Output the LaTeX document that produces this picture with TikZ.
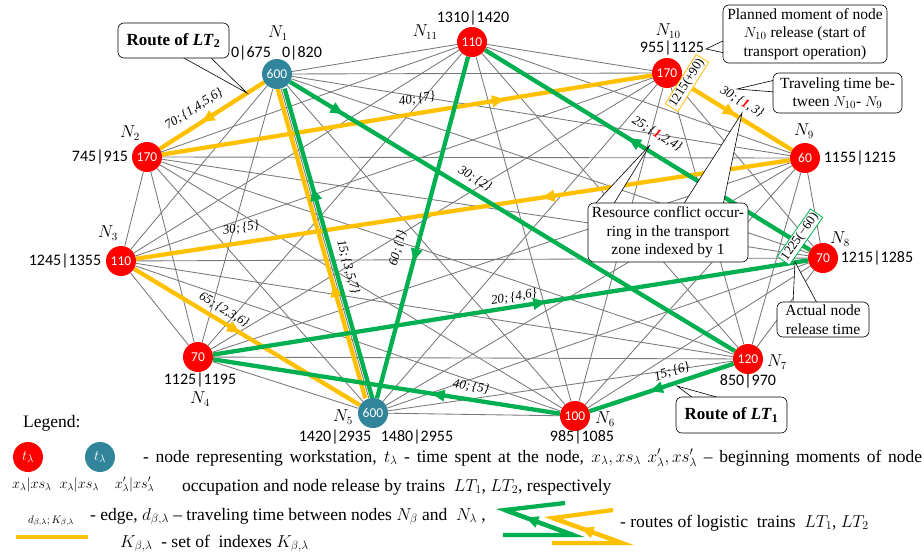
\documentclass[tikz,border=0pt]{standalone}
\usepackage{fontspec}
\setmainfont{Liberation Serif}
\newfontfamily\numfont{Carlito}
\usetikzlibrary{arrows.meta,decorations.markings}
\pgfdeclarelayer{edges}
\pgfdeclarelayer{routes}
\pgfsetlayers{edges,routes,main}
\definecolor{nodered}{RGB}{255,0,0}
\definecolor{nodeteal}{RGB}{49,133,155}
\definecolor{routey}{RGB}{255,192,0}
\definecolor{routeg}{RGB}{0,176,80}
\definecolor{edgegray}{RGB}{120,120,120}
\tikzset{
 ws/.style={circle, minimum size=30pt, inner sep=0pt, text=white, font=\numfont\fontsize{13.5}{14}\selectfont},
 wsred/.style={ws, fill=nodered},
 wsteal/.style={ws, fill=nodeteal},
 grayedge/.style={draw=edgegray, line width=0.85pt},
 lt1/.style={draw=routeg, line width=4.3pt},
 lt2/.style={draw=routey, line width=4.3pt},
 midarrow/.style={postaction={decorate}, decoration={markings, mark=at position #1 with {\arrow{Triangle[length=13pt,width=11pt]}}}},
 tlab/.style={font=\numfont\fontsize{16}{18}\selectfont, inner sep=0pt},
 nlab/.style={font=\fontsize{16}{18}\selectfont, inner sep=0pt},
 elab/.style={font=\itshape\fontsize{13}{15}\selectfont, inner sep=0pt},
 callout/.style={draw=black, fill=white, rounded corners=6pt, line width=0.6pt, align=center, font=\fontsize{15.5}{18.5}\selectfont, inner sep=2pt},
 routebox/.style={callout, font=\bfseries\fontsize{17}{19}\selectfont},
 wedge/.style={draw=black, fill=white, line width=0.6pt},
 relbox/.style={fill=white, line width=0.8pt, inner sep=1.5pt, font=\fontsize{13}{15}\selectfont},
 legtext/.style={font=\fontsize{17.5}{21}\selectfont, inner sep=0pt},
}
\begin{document}
\begin{tikzpicture}[x=1pt,y=-1pt]
\useasboundingbox (0,0) rectangle (924,557);
% workstation nodes
\node[wsteal] (N1) at (277,74) {600};
\node[wsred] (N2) at (147,157) {170};
\node[wsred] (N3) at (121,261) {110};
\node[wsred] (N4) at (198,357) {70};
\node[wsteal] (N5) at (373,413) {600};
\node[wsred] (N6) at (575,416) {100};
\node[wsred] (N7) at (748,359) {120};
\node[wsred] (N8) at (823,258) {70};
\node[wsred] (N9) at (805,158) {60};
\node[wsred] (N10) at (667,73) {170};
\node[wsred] (N11) at (472,42) {110};
% all edges
\begin{pgfonlayer}{edges}
\foreach \i in {1,...,10}{
  \pgfmathtruncatemacro{\nxt}{\i+1}
  \foreach \j in {\nxt,...,11}{
    \draw[grayedge] (N\i) -- (N\j);
  }
}
\end{pgfonlayer}
% routes
\begin{pgfonlayer}{routes}
\draw[lt2, midarrow=0.6] (N1) -- (N2);
\draw[lt2, midarrow=0.7] (N2) -- (N10);
\draw[lt2, midarrow=0.5] (N10) -- (N9);
\draw[lt2, midarrow=0.38] (N9) -- (N3);
\draw[lt2, midarrow=0.47] (N3) -- (N5);
\draw[lt2, midarrow=0.37, transform canvas={xshift=-3.5pt}] (N5) -- (N1);
\draw[lt1, midarrow=0.68, transform canvas={xshift=3.5pt}] (N5) -- (N1);
\draw[lt1, midarrow=0.12] (N1) -- (N7);
\draw[lt1, midarrow=0.58] (N7) -- (N6);
\draw[lt1, midarrow=0.37] (N6) -- (N4);
\draw[lt1, midarrow=0.56] (N4) -- (N8);
\draw[lt1, midarrow=0.56] (N8) -- (N11);
\draw[lt1, midarrow=0.6] (N11) -- (N5);
\end{pgfonlayer}
% node labels
\node[nlab] (n1) at (278,33) {$N_1$};
\node[tlab] (t1a) at (251,53) {0|675};
\node[tlab] (t1b) at (302,53) {0|820};
\node[nlab] (n2) at (130,133) {$N_2$};
\node[tlab] (t2) at (100,157) {745|915};
\node[nlab] (n3) at (108,233) {$N_3$};
\node[tlab] (t3) at (65,261) {1245|1355};
\node[tlab] (t4) at (200,380) {1125|1195};
\node[nlab] (n4) at (200,399) {$N_4$};
\node[nlab] (n5) at (343,417) {$N_5$};
\node[tlab] (t5a) at (335,437) {1420|2935};
\node[tlab] (t5b) at (417,437) {1480|2955};
\node[nlab] (n6) at (605,419) {$N_6$};
\node[tlab] (t6) at (582,437) {985|1085};
\node[nlab] (n7) at (777,362) {$N_7$};
\node[tlab] (t7) at (748,381) {850|970};
\node[nlab] (n8) at (840,239) {$N_8$};
\node[tlab] (t8) at (877,258) {1215|1285};
\node[nlab] (n9) at (804,131) {$N_9$};
\node[tlab] (t9) at (860,158) {1155|1215};
\node[nlab] (n10) at (668,31) {$N_{10}$};
\node[tlab] (t10) at (672,48) {955|1125};
\node[nlab] (n11) at (425,32) {$N_{11}$};
\node[tlab] (t11) at (473,18) {1310|1420};
% edge labels
\node[elab, rotate=32.6] (e12) at (194,109) {70;\,\{1,4,5,6\}};
\node[elab, rotate=9.2] (e210) at (417,99) {40;\,\{7\}};
\node[elab, rotate=-31.6] (e109) at (742,102) {30;\,\{\textcolor{red}{\textbf{1}},\,3\}};
\node[elab, rotate=-31.6] (e811) at (657,134) {25;\,\{\textcolor{red}{\textbf{1}},2,4\}};
\node[elab, rotate=-31.2] (e17) at (475,179) {30;\,\{2\}};
\node[elab, rotate=8.6] (e93) at (241,228) {30;\,\{5\}};
\node[elab, rotate=-31.1] (e35) at (224,310) {65;\,\{2,3,6\}};
\node[elab, rotate=-74.2] (e51) at (348,267) {15;\,\{3,5,7\}};
\node[elab, rotate=75.1] (e115) at (398,248) {60;\,\{1\}};
\node[elab, rotate=9] (e48) at (514,297) {20;\,\{4,6\}};
\node[elab, rotate=-8.9] (e64) at (471,387) {40;\,\{5\}};
\node[elab, rotate=18.2] (e76) at (672,372) {15;\,\{6\}};
% release-time boxes
\node[relbox, draw=routey, rotate=58] (r10) at (687,83) {1215(+90)};
\node[relbox, draw=routeg, rotate=55] (r8) at (800,237) {1225(−60)};
% callouts
\coordinate (p2) at (247,93);
\draw[wedge] (182,57) -- (p2) -- (210,57);
\node[routebox, minimum width=111pt, minimum height=35pt] (c2) at (173.5,40.5) {Route of \textit{LT}\textsubscript{2}};
\coordinate (p10) at (706,49);
\draw[wedge] (725,40) -- (p10) -- (725,53);
\node[callout, minimum width=164pt, minimum height=58pt] (cp) at (805,34) {Planned moment of node\\$N_{10}$ release (start of\\transport operation)};
\coordinate (p109) at (737,89);
\draw[wedge] (775,80) -- (p109) -- (775,92);
\node[callout, minimum width=129pt, minimum height=40pt] (ct) at (837.5,93) {Traveling time be-\\tween $N_{10}$- $N_9$};
\coordinate (q1) at (650,145);
\coordinate (q2) at (742,113);
\draw[wedge] (594,205) -- (q1) -- (613,205);
\draw[wedge] (683,205) -- (q2) -- (723,205);
\node[callout, minimum width=160pt, minimum height=59pt] (cr) at (668,232.5) {Resource conflict occur-\\ring in the transport\\zone indexed by 1};
\coordinate (qa) at (795,262);
\draw[wedge] (793,303) -- (qa) -- (817,303);
\node[callout, minimum width=92pt, minimum height=35pt] (ca) at (823,319.5) {Actual node\\release time};
\coordinate (p1) at (677,386);
\draw[wedge] (693,398) -- (p1) -- (720,398);
\node[routebox, minimum width=111pt, minimum height=36pt] (c1) at (731.5,415) {Route of \textit{LT}\textsubscript{1}};
% legend
\node[legtext, anchor=base west] (lg) at (23,427) {Legend:};
\node[wsred, font=\fontsize{15}{15}\selectfont] (lr) at (28,457) {$t_\lambda$};
\node[wsteal, font=\fontsize{15}{15}\selectfont] (lt) at (100,457) {$t_\lambda$};
\node[font=\fontsize{14}{16}\selectfont, anchor=base west, inner sep=0pt] (lx) at (12,488) {$x_\lambda|xs_\lambda\;\; x_\lambda|xs_\lambda\;\;\;\; x'_\lambda|xs'_\lambda$};
\node[legtext, anchor=base west] (l1) at (143,462) {\makebox[779pt][s]{- node representing workstation, $t_\lambda$ - time spent at the node, $x_\lambda, xs_\lambda$ $x'_\lambda, xs'_\lambda$ – beginning moments of node}};
\node[legtext, anchor=base west] (l2) at (182,491) {occupation and node release by trains\ \ $LT_1$, $LT_2$, respectively};
\node[font=\fontsize{11}{12}\selectfont, anchor=base, inner sep=0pt] (ld) at (51,523) {$d_{\beta,\lambda};K_{\beta,\lambda}$};
\draw[lt2] (16,537) -- (88,537);
\node[legtext, anchor=base west] (l3) at (90,520) {- edge, $d_{\beta,\lambda}$ – traveling time between nodes $N_\beta$ and\ \ $N_\lambda$ ,};
\node[legtext, anchor=base west] (l4) at (120,547) {$K_{\beta,\lambda}$\ \ - set of\ \ indexes $K_{\beta,\lambda}$};
\draw[lt1, line join=miter] (565,503) -- (505,510) -- (573,535) -- (503,535);
\draw[lt1, midarrow=0.7] (573,535) -- (505,510);
\draw[lt2, line join=miter] (613,510) -- (553,518) -- (622,543) -- (552,543);
\draw[lt2, midarrow=0.6] (622,543) -- (553,518);
\node[legtext, anchor=base west] (l5) at (620,527) {- routes of logistic\ \ trains\ \ $LT_1$, $LT_2$};
\end{tikzpicture}
\end{document}
